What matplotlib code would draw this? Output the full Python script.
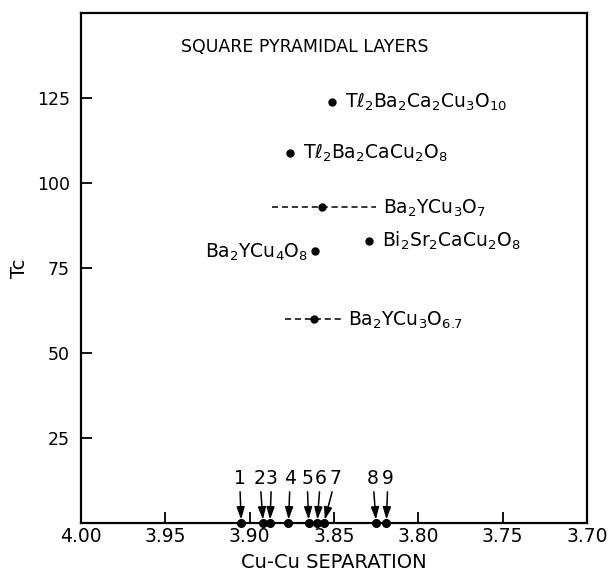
import matplotlib
matplotlib.use("Agg")
import matplotlib.pyplot as plt

plt.rcParams["font.family"] = ["DejaVu Sans"]
plt.rcParams["mathtext.fontset"] = "dejavusans"

# Compounds: Cu-Cu separation (Angstrom) and Tc (K)
compounds = [
    r"$\mathrm{T}\ell_2\mathrm{Ba}_2\mathrm{Ca}_2\mathrm{Cu}_3\mathrm{O}_{10}$",
    r"$\mathrm{T}\ell_2\mathrm{Ba}_2\mathrm{CaCu}_2\mathrm{O}_8$",
    r"$\mathrm{Ba}_2\mathrm{YCu}_3\mathrm{O}_7$",
    r"$\mathrm{Bi}_2\mathrm{Sr}_2\mathrm{CaCu}_2\mathrm{O}_8$",
    r"$\mathrm{Ba}_2\mathrm{YCu}_4\mathrm{O}_8$",
    r"$\mathrm{Ba}_2\mathrm{YCu}_3\mathrm{O}_{6.7}$",
]
separation = [3.851, 3.876, 3.857, 3.829, 3.861, 3.862]
tc = [124, 109, 93, 83, 80, 60]

# Ranges of separation shown as dashed bars (low, high)
range_lo = [None, None, 3.887, None, None, 3.879]
range_hi = [None, None, 3.825, None, None, 3.846]

# Numbered reference compounds on the separation axis
ref_numbers = ["1", "2", "3", "4", "5", "6", "7", "8", "9"]
ref_separation = [3.905, 3.892, 3.888, 3.877, 3.865, 3.860, 3.856, 3.825, 3.819]
ref_label_x = [3.906, 3.894, 3.887, 3.876, 3.866, 3.858, 3.849, 3.827, 3.818]

x_ticks = [4.00, 3.95, 3.90, 3.85, 3.80, 3.75, 3.70]
y_ticks = [25, 50, 75, 100, 125]

fig = plt.figure(figsize=(6.14, 5.76), dpi=100)
ax = fig.add_axes([0.132, 0.092, 0.824, 0.885])
ax.set_xlim(4.00, 3.70)
ax.set_ylim(0, 150)

for side in ax.spines.values():
    side.set_linewidth(1.6)

ax.set_xticks(x_ticks)
ax.set_xticklabels([f"{v:.2f}" for v in x_ticks])
ax.set_yticks(y_ticks)
ax.tick_params(direction="in", length=8, width=1.3, labelsize=12.5,
               top=False, right=False)
ax.tick_params(axis="x", labelsize=13.5, pad=3)
ax.tick_params(axis="y", pad=8)

# label placement: (dx points, align)
offsets = [(9, "left"), (9, "left"), (None, "left"), (9, "left"), (-5, "right"), (None, "left")]

for name, x, y, lo, hi, (dx, ha) in zip(compounds, separation, tc, range_lo, range_hi, offsets):
    if lo is not None:
        ax.plot([lo, hi], [y, y], color="black", lw=1.1, ls=(0, (4, 2.5)))
        ax.annotate(name, xy=(hi, y), xytext=(5, -4.5), textcoords="offset points",
                    ha="left", va="baseline", fontsize=13.5)
    else:
        ax.annotate(name, xy=(x, y), xytext=(dx, -4.5), textcoords="offset points",
                    ha=ha, va="baseline", fontsize=13.5)
    ax.plot(x, y, "o", color="black", ms=5)

for num, x, lx in zip(ref_numbers, ref_separation, ref_label_x):
    ax.plot(x, 0, "o", color="black", ms=5.5, clip_on=False, zorder=5)
    ax.annotate(num, xy=(x, 0), xytext=(lx, 13.2), textcoords="data",
                ha="center", va="center", fontsize=13.5,
                arrowprops=dict(arrowstyle="-|>,head_length=0.55,head_width=0.18",
                                color="black", lw=1.1, shrinkA=1, shrinkB=2.5))

ax.text(3.8675, 140, "SQUARE PYRAMIDAL LAYERS", ha="center", va="center", fontsize=12.5)
ax.set_xlabel("Cu-Cu SEPARATION", fontsize=14, labelpad=5)
ax.set_ylabel("Tc", fontsize=14, labelpad=6)

fig.savefig("out.png", dpi=100)
